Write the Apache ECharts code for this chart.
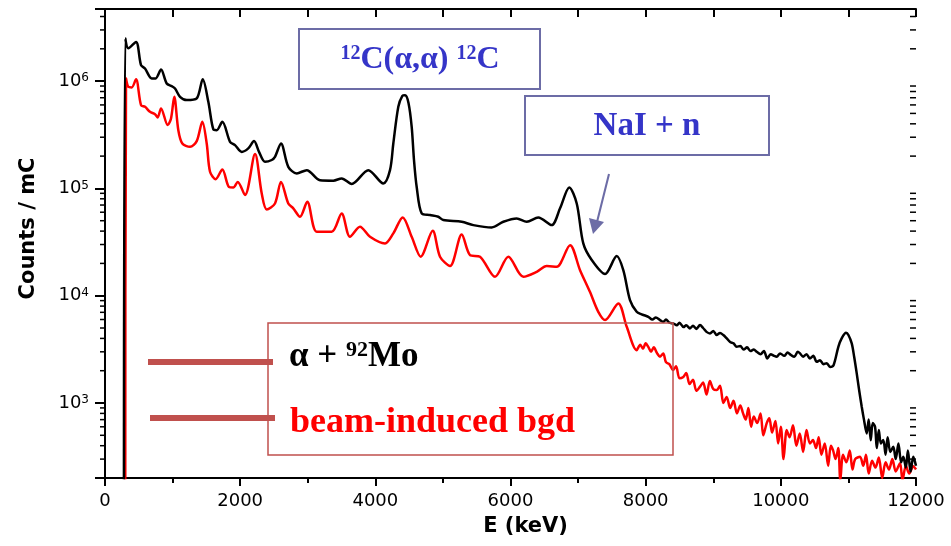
<!DOCTYPE html>
<html>
<head>
<meta charset="utf-8">
<script src="https://cdn.jsdelivr.net/npm/echarts@6/dist/echarts.min.js"></script>
<style>
html, body { margin: 0; padding: 0; background: #fff; }
#main { width: 951px; height: 546px; }
</style>
</head>
<body>
<div id="main"></div>
<script>
// alpha + 92Mo spectrum (black)
var moEnergy = [280, 300, 345, 459, 533, 592, 691, 750, 829, 913, 987, 1036, 1110, 1209, 1357, 1446, 1529, 1603, 1653, 1736,
    1850, 1924, 2023, 2120, 2205, 2279, 2368, 2467, 2515, 2604, 2712, 2837, 2985, 3181, 3378, 3502, 3650, 3896, 4118, 4217,
    4266, 4340, 4400, 4440, 4490, 4538, 4572, 4612, 4686, 4809, 4932, 5006, 5278, 5450, 5722, 5894, 6092, 6240, 6411, 6609,
    6733, 6870, 6980, 7077, 7202, 7399, 7572, 7669, 7768, 7867, 7940, 8000, 8039, 8100, 8150, 8212, 8260, 8300, 8350, 8409,
    8460, 8500, 8560, 8600, 8656, 8700, 8750, 8804, 8850, 8900, 8952, 9000, 9050, 9100, 9149, 9200, 9250, 9300, 9347, 9400,
    9450, 9500, 9550, 9600, 9643, 9700, 9750, 9800, 9850, 9900, 9939, 9990, 10050, 10100, 10150, 10200, 10250, 10284, 10330, 10380,
    10430, 10480, 10531, 10580, 10630, 10680, 10728, 10780, 10851, 10900, 10965, 11000, 11049, 11085, 11123, 11160, 11197, 11230, 11271, 11300,
    11330, 11360, 11394, 11420, 11450, 11480, 11516, 11550, 11580, 11620, 11664, 11700, 11740, 11780, 11812, 11850, 11880, 11920, 11960, 12000];
var moCounts = [100, 2.5e6, 2.02e6, 2.32e6, 1.41e6, 1.31e6, 1.06e6, 1.06e6, 1.28e6, 9.5e5, 8.98e5, 8.55e5, 7.14e5, 6.65e5, 6.9e5, 1.04e6, 6.41e5, 3.55e5, 3.49e5, 4.18e5,
    2.72e5, 2.53e5, 2.19e5, 2.36e5, 2.76e5, 2.19e5, 1.77e5, 1.84e5, 1.97e5, 2.62e5, 1.59e5, 1.38e5, 1.48e5, 1.19e5, 1.18e5, 1.24e5, 1.10e5, 1.48e5, 1.11e5, 1.48e5,
    2.62e5, 5.76e5, 7.3e5, 7.4e5, 6.3e5, 3.75e5, 1.84e5, 1.03e5, 5.85e4, 5.64e4, 5.44e4, 5.07e4, 4.89e4, 4.55e4, 4.33e4, 4.89e4, 5.25e4, 4.89e4, 5.37e4, 4.55e4,
    6.52e4, 1.02e5, 7.24e4, 3.07e4, 2.15e4, 1.59e4, 2.34e4, 1.73e4, 9100, 7080, 6700, 6500, 6360, 6000, 6250, 5930, 5700, 6000, 5600, 5520,
    5300, 5600, 5100, 5300, 4960, 5250, 4900, 5320, 5000, 4600, 4450, 4700, 4300, 4500, 4300, 4000, 3700, 3600, 3340, 3400,
    3150, 3300, 3050, 3150, 3000, 2850, 3050, 2600, 2850, 2750, 2700, 2900, 2750, 2950, 2800, 2700, 3000, 2900, 2700, 2850,
    2600, 2750, 2420, 2500, 2300, 2350, 2170, 2250, 3340, 4000, 4510, 4300, 3590, 2700, 1890, 1300, 923, 700, 521, 700,
    450, 650, 600, 380, 560, 420, 451, 330, 480, 350, 391, 300, 420, 280, 315, 250, 360, 230, 315, 260];

// beam-induced background (red)
var bgdEnergy = [300, 311, 345, 395, 459, 533, 592, 666, 740, 780, 829, 928, 977, 1025, 1085, 1144, 1258, 1357, 1440, 1505,
    1554, 1638, 1736, 1835, 1898, 1964, 2072, 2220, 2319, 2393, 2515, 2604, 2712, 2786, 2885, 2993, 3133, 3354, 3502, 3625,
    3773, 3921, 4143, 4266, 4405, 4538, 4671, 4849, 4957, 5105, 5278, 5401, 5549, 5771, 5968, 6190, 6388, 6536, 6684, 6881,
    7029, 7177, 7299, 7399, 7595, 7720, 7867, 7920, 7960, 8000, 8039, 8080, 8120, 8170, 8212, 8260, 8300, 8350, 8405, 8450,
    8500, 8557, 8600, 8650, 8700, 8750, 8804, 8850, 8900, 8950, 9000, 9051, 9100, 9150, 9199, 9250, 9300, 9350, 9400, 9440,
    9480, 9520, 9560, 9600, 9650, 9700, 9740, 9791, 9830, 9870, 9920, 9960, 10000, 10040, 10087, 10130, 10180, 10230, 10280, 10330,
    10380, 10430, 10476, 10520, 10560, 10600, 10650, 10700, 10740, 10772, 10810, 10850, 10880, 10920, 10970, 11020, 11060, 11100, 11172, 11220,
    11260, 11300, 11350, 11400, 11450, 11500, 11550, 11600, 11650, 11700, 11764, 11800, 11850, 11900, 11960, 12000];
var bgdCounts = [100, 1.06e6, 8.85e5, 8.73e5, 1.04e6, 5.97e5, 5.76e5, 5.17e5, 4.92e5, 4.59e5, 5.57e5, 3.89e5, 4.49e5, 7.14e5, 3.49e5, 2.62e5, 2.44e5, 2.76e5, 4.18e5, 2.62e5,
    1.43e5, 1.22e5, 1.50e5, 1.03e5, 1.02e5, 1.15e5, 8.67e4, 2.09e5, 8.98e4, 6.37e4, 7.24e4, 1.15e5, 7.24e4, 6.52e4, 5.44e4, 7.5e4, 3.94e4, 3.94e4, 5.85e4, 3.54e4,
    4.39e4, 3.54e4, 3.07e4, 3.81e4, 5.37e4, 3.54e4, 2.31e4, 4.03e4, 2.31e4, 1.89e4, 3.72e4, 2.39e4, 2.31e4, 1.50e4, 2.31e4, 1.50e4, 1.67e4, 1.89e4, 1.86e4, 2.96e4,
    1.73e4, 1.08e4, 7080, 5930, 8470, 5130, 3110, 3500, 3200, 3600, 3340, 3000, 3300, 2900, 2700, 2900, 2400, 2300, 2030, 2200,
    1700, 1750, 1900, 1500, 1650, 1300, 1420, 1550, 1200, 1600, 1350, 1320, 1450, 1000, 1140, 900, 1050, 800, 950, 805,
    700, 900, 600, 750, 650, 800, 500, 650, 720, 530, 680, 420, 600, 300, 559, 480, 620, 400, 520, 350,
    560, 420, 451, 380, 480, 330, 420, 260, 400, 364, 300, 380, 190, 330, 280, 360, 240, 300, 315, 260,
    330, 220, 290, 250, 310, 200, 280, 240, 300, 230, 275, 190, 260, 220, 258, 240];

var yMin = 200, yMax = 4.7e6;
var minorTickValues = [];
[100, 1000, 10000, 100000, 1000000].forEach(function (d) {
    for (var k = 2; k <= 9; k++) {
        var v = k * d;
        if (v > yMin && v < yMax) minorTickValues.push([0, v]);
    }
});

function zip(a, b) {
    return a.map(function (v, i) { return [v, b[i]]; });
}

var myChart = echarts.init(document.getElementById('main'));
var serif = "'Liberation Serif', 'Times New Roman', serif";
var boxColor = '#6c6ca6';
var legendColor = '#c0504d';

var option = {
    animation: false,
    grid: { left: 105, right: 35, top: 9, bottom: 68 },
    xAxis: [{
        type: 'value', min: 0, max: 12000, interval: 2000,
        name: 'E (keV)', nameLocation: 'middle', nameGap: 38,
        nameTextStyle: { fontFamily: 'DejaVu Sans', fontWeight: 'bold', fontSize: 21, color: '#000', padding: [0, 0, 0, 30] },
        axisLine: { lineStyle: { color: '#000', width: 2 } },
        axisTick: { length: 8, lineStyle: { width: 2 } },
        minorTick: { show: true, splitNumber: 2, length: 5, lineStyle: { color: '#000', width: 2 } },
        splitLine: { show: false },
        axisLabel: {
            fontFamily: 'DejaVu Sans', fontSize: 18, color: '#000', margin: 14,
            formatter: function (v) { return String(v); }
        }
    }, {
        type: 'value', position: 'top', min: 0, max: 12000, interval: 1000,
        axisLine: { lineStyle: { color: '#000', width: 2 } },
        axisTick: { inside: true, length: 8, lineStyle: { width: 2 } },
        axisLabel: { show: false },
        splitLine: { show: false }
    }],
    yAxis: [{
        type: 'log', logBase: 10, min: yMin, max: yMax,
        name: 'Counts / mC', nameLocation: 'middle', nameGap: 66, nameRotate: 90,
        nameTextStyle: { fontFamily: 'DejaVu Sans', fontWeight: 'bold', fontSize: 21, color: '#000', padding: [0, 0, 0, 30] },
        axisLine: { show: true, lineStyle: { color: '#000', width: 2 } },
        axisTick: { show: true, length: 8, lineStyle: { width: 2 } },
        splitLine: { show: false },
        axisLabel: {
            showMinLabel: false, showMaxLabel: false, margin: 16,
            fontFamily: 'DejaVu Sans', fontSize: 18, color: '#000',
            formatter: function (v) {
                var e = Math.round(Math.log10(v));
                return '10{sup|' + e + '}';
            },
            rich: { sup: { fontSize: 12, verticalAlign: 'top', fontFamily: 'DejaVu Sans', color: '#000' } }
        }
    }, {
        type: 'log', logBase: 10, min: yMin, max: yMax, position: 'right',
        axisLine: { show: true, lineStyle: { color: '#000', width: 2 } },
        axisTick: { show: true, inside: true, length: 10, lineStyle: { width: 2 } },
        axisLabel: { show: false },
        splitLine: { show: false }
    }],
    series: [{
        name: 'beam-induced bgd',
        type: 'line',
        showSymbol: false,
        smooth: 0.3,
        data: zip(bgdEnergy, bgdCounts),
        lineStyle: { color: '#ff0000', width: 2.5 },
        itemStyle: { color: '#ff0000' }
    }, {
        name: 'alpha + 92Mo',
        type: 'line',
        showSymbol: false,
        smooth: 0.3,
        data: zip(moEnergy, moCounts),
        lineStyle: { color: '#000000', width: 2.5 },
        itemStyle: { color: '#000000' }
    }, {
        // minor log ticks on left (outside) and right (inside)
        type: 'custom',
        silent: true,
        data: minorTickValues,
        renderItem: function (params, api) {
            var v = api.value(1);
            var pl = api.coord([0, v]);
            var pr = api.coord([12000, v]);
            return {
                type: 'group',
                children: [{
                    type: 'line',
                    shape: { x1: pl[0] - 5, y1: pl[1], x2: pl[0], y2: pl[1] },
                    style: { stroke: '#000', lineWidth: 1.5 }
                }, {
                    type: 'line',
                    shape: { x1: pr[0] - 6, y1: pr[1], x2: pr[0], y2: pr[1] },
                    style: { stroke: '#000', lineWidth: 1.5 }
                }]
            };
        }
    }],
    graphic: [
        // 12C(a,a)12C label
        { type: 'rect', shape: { x: 299, y: 29, width: 241, height: 60 }, style: { fill: '#fff', stroke: boxColor, lineWidth: 2 }, z: 10 },
        {
            type: 'text', x: 420, y: 60, z: 11,
            style: {
                text: '{s|12}C(α,α) {s|12}C', align: 'center', verticalAlign: 'middle',
                font: 'bold 32px ' + serif, fill: '#3535c8',
                rich: { s: { fontSize: 20, fontWeight: 'bold', fontFamily: serif, fill: '#3535c8', verticalAlign: 'top' } }
            }
        },
        // NaI + n label
        { type: 'rect', shape: { x: 525, y: 96, width: 244, height: 59 }, style: { fill: '#fff', stroke: boxColor, lineWidth: 2 }, z: 10 },
        {
            type: 'text', x: 647, y: 126, z: 11,
            style: { text: 'NaI + n', align: 'center', verticalAlign: 'middle', font: 'bold 33px ' + serif, fill: '#3535c8' }
        },
        // arrow
        { type: 'line', shape: { x1: 609, y1: 174, x2: 597, y2: 222 }, style: { stroke: boxColor, lineWidth: 2 }, z: 10 },
        { type: 'polygon', shape: { points: [[593, 234], [589, 218], [604, 222]] }, style: { fill: boxColor }, z: 10 },
        // legend box
        { type: 'rect', shape: { x: 268, y: 323, width: 405, height: 132 }, style: { fill: 'none', stroke: legendColor, lineWidth: 1.5 }, z: 10 },
        { type: 'line', shape: { x1: 148, y1: 362, x2: 273, y2: 362 }, style: { stroke: legendColor, lineWidth: 6 }, z: 10 },
        { type: 'line', shape: { x1: 150, y1: 418, x2: 275, y2: 418 }, style: { stroke: legendColor, lineWidth: 6 }, z: 10 },
        {
            type: 'text', x: 289, y: 357, z: 11,
            style: {
                text: 'α + {s|92}Mo', align: 'left', verticalAlign: 'middle',
                font: 'bold 35px ' + serif, fill: '#000',
                rich: { s: { fontSize: 22, fontWeight: 'bold', fontFamily: serif, fill: '#000', verticalAlign: 'top' } }
            }
        },
        {
            type: 'text', x: 290, y: 423, z: 11,
            style: { text: 'beam-induced bgd', align: 'left', verticalAlign: 'middle', font: 'bold 36px ' + serif, fill: '#ff0000' }
        }
    ]
};

myChart.setOption(option);
window.onresize = function () {
    myChart.resize();
};
</script>
</body>
</html>
